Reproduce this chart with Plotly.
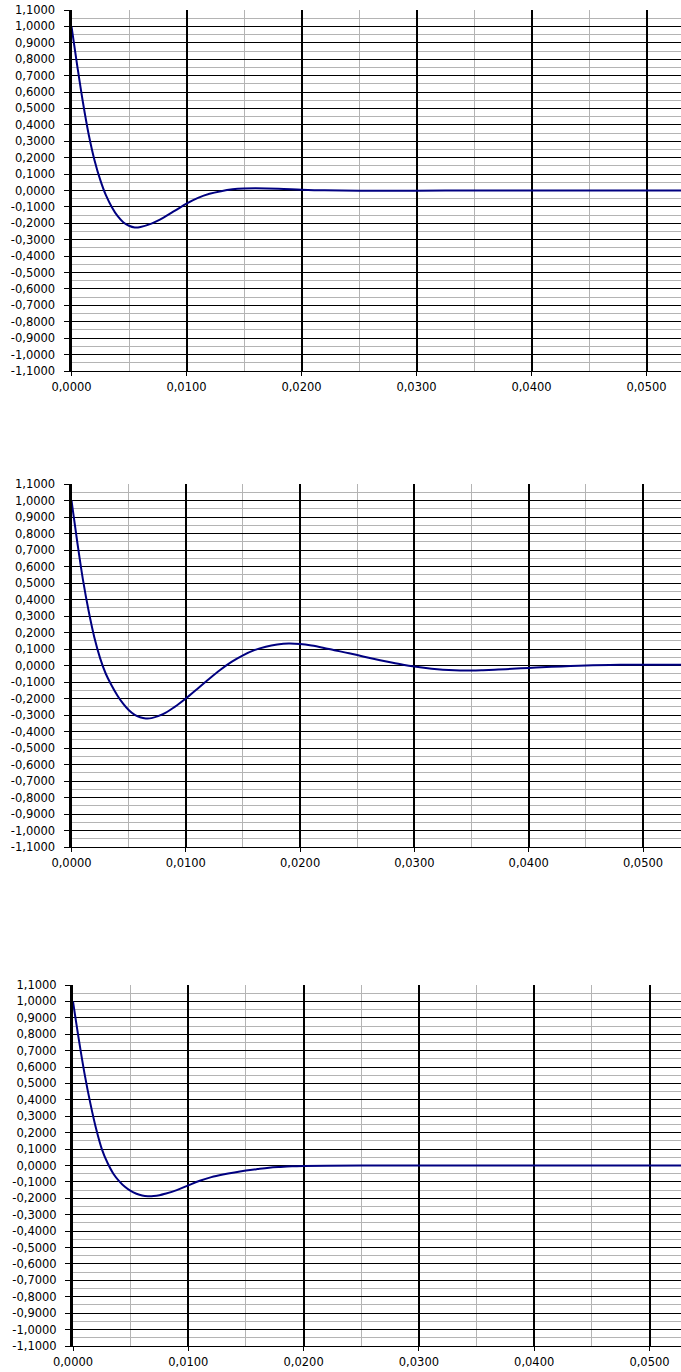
import plotly.graph_objects as go

# ---------------- data ----------------
t1 = [0, 0.0005, 0.001, 0.0015, 0.002, 0.0025, 0.003, 0.0035, 0.004, 0.0045, 0.005,
      0.0055, 0.006, 0.007, 0.008, 0.009, 0.010, 0.011, 0.012, 0.013, 0.014, 0.015,
      0.016, 0.018, 0.020, 0.022, 0.025, 0.030, 0.035, 0.040, 0.045, 0.050, 0.055]
v1 = [1.0, 0.76, 0.535, 0.34, 0.185, 0.065, -0.03, -0.10, -0.155, -0.193, -0.215,
      -0.225, -0.222, -0.20, -0.165, -0.123, -0.080, -0.045, -0.020, -0.004, 0.007, 0.012,
      0.013, 0.011, 0.005, 0.001, -0.001, -0.001, 0.0, 0.0, 0.0, 0.0, 0.0]

t2 = [0, 0.0005, 0.001, 0.0015, 0.002, 0.0025, 0.003, 0.0035, 0.004, 0.0045, 0.005,
      0.0055, 0.006, 0.0065, 0.007, 0.008, 0.009, 0.010, 0.011, 0.012, 0.013, 0.014,
      0.015, 0.016, 0.017, 0.018, 0.019, 0.020, 0.021, 0.022, 0.023, 0.024, 0.025,
      0.026, 0.027, 0.028, 0.029, 0.030, 0.031, 0.032, 0.033, 0.034, 0.035, 0.036,
      0.037, 0.038, 0.040, 0.042, 0.045, 0.048, 0.050, 0.055]
v2 = [1.0, 0.75, 0.52, 0.33, 0.17, 0.045, -0.05, -0.12, -0.18, -0.23, -0.27,
      -0.298, -0.314, -0.321, -0.319, -0.295, -0.252, -0.200, -0.142, -0.083, -0.027, 0.022,
      0.062, 0.093, 0.114, 0.127, 0.133, 0.130, 0.121, 0.108, 0.093, 0.078, 0.063,
      0.047, 0.032, 0.018, 0.005, -0.006, -0.015, -0.022, -0.027, -0.030, -0.031, -0.029,
      -0.026, -0.022, -0.015, -0.008, 0.0, 0.004, 0.005, 0.005]

t3 = [0, 0.0005, 0.001, 0.0015, 0.002, 0.0025, 0.003, 0.0035, 0.004, 0.0045, 0.005,
      0.0055, 0.006, 0.0065, 0.007, 0.0075, 0.008, 0.009, 0.010, 0.011, 0.012, 0.013,
      0.014, 0.015, 0.016, 0.017, 0.018, 0.019, 0.020, 0.022, 0.025, 0.030, 0.035,
      0.040, 0.045, 0.050, 0.055]
v3 = [1.0, 0.77, 0.56, 0.38, 0.225, 0.10, 0.015, -0.05, -0.095, -0.13, -0.155,
      -0.172, -0.183, -0.187, -0.186, -0.181, -0.172, -0.150, -0.121, -0.093, -0.071, -0.055,
      -0.042, -0.031, -0.022, -0.014, -0.009, -0.005, -0.003, -0.001, 0.0, 0.0, 0.0,
      0.0, 0.0, 0.0, 0.0]

y_tickvals = [round(-1.1 + 0.1 * i, 1) for i in range(23)]
y_ticktext = [("%.4f" % v).replace("-0.0000", "0.0000").replace(".", ",") for v in y_tickvals]
x_tickvals = [0.0, 0.01, 0.02, 0.03, 0.04, 0.05]
x_ticktext = ["0,0000", "0,0100", "0,0200", "0,0300", "0,0400", "0,0500"]

# ---------------- layout geometry ----------------
W, H = 681, 1372
panels = [
    dict(t=t1, v=v1, left=71.5, top=10, bottom=371, xmax=(681 - 71.5) / 11500),
    dict(t=t2, v=v2, left=71.5, top=484, bottom=847, xmax=(681 - 71.5) / 11430),
    dict(t=t3, v=v3, left=73, top=985, bottom=1346, xmax=(681 - 73) / 11530),
]

fig = go.Figure()
font = dict(family="DejaVu Sans", size=11.5, color="#000000")

for i, p in enumerate(panels, start=1):
    xa = "x" if i == 1 else f"x{i}"
    ya = "y" if i == 1 else f"y{i}"
    fig.add_trace(go.Scatter(
        x=p["t"], y=p["v"], mode="lines",
        line=dict(color="#000080", width=2, shape="spline", smoothing=1.0),
        xaxis=xa, yaxis=ya, showlegend=False, hoverinfo="skip"))
    xkey = "xaxis" if i == 1 else f"xaxis{i}"
    ykey = "yaxis" if i == 1 else f"yaxis{i}"
    fig.layout[xkey] = dict(
        domain=[p["left"] / W, 1.0], anchor=ya, range=[0, p["xmax"]],
        tickmode="array", tickvals=x_tickvals, ticktext=x_ticktext,
        showgrid=True, gridcolor="#000000", gridwidth=1.5,
        minor=dict(tickmode="linear", tick0=0.005, dtick=0.01, showgrid=True,
                   gridcolor="#b4b4b4", gridwidth=1.2, ticks=""),
        ticks="outside", ticklen=4, tickcolor="#000000", tickwidth=1,
        showline=True, linecolor="#000000", linewidth=1, automargin=False,
        zeroline=False, tickfont=font, ticklabelstandoff=1, fixedrange=True)
    fig.layout[ykey] = dict(
        domain=[1 - p["bottom"] / H, 1 - p["top"] / H], anchor=xa, range=[-1.1, 1.1],
        tickmode="array", tickvals=y_tickvals, ticktext=y_ticktext,
        showgrid=True, gridcolor="#000000", gridwidth=1,
        minor=dict(tickmode="linear", tick0=0.05, dtick=0.1, showgrid=True,
                   gridcolor="#b4b4b4", gridwidth=1, ticks=""),
        ticks="outside", ticklen=5, tickcolor="#000000", tickwidth=1,
        showline=True, linecolor="#000000", linewidth=3, automargin=False,
        zeroline=False, tickfont=font, ticklabelstandoff=6, fixedrange=True)

fig.update_layout(
    width=W, height=H, margin=dict(l=0, r=0, t=0, b=0, autoexpand=False),
    paper_bgcolor="#ffffff", plot_bgcolor="#ffffff",
    separators=", ", showlegend=False)

fig.write_html(
    "out.html", config={"displayModeBar": False},
    post_script="document.body.style.margin='0';document.body.style.padding='0';"
                "document.documentElement.style.overflow='hidden';")
